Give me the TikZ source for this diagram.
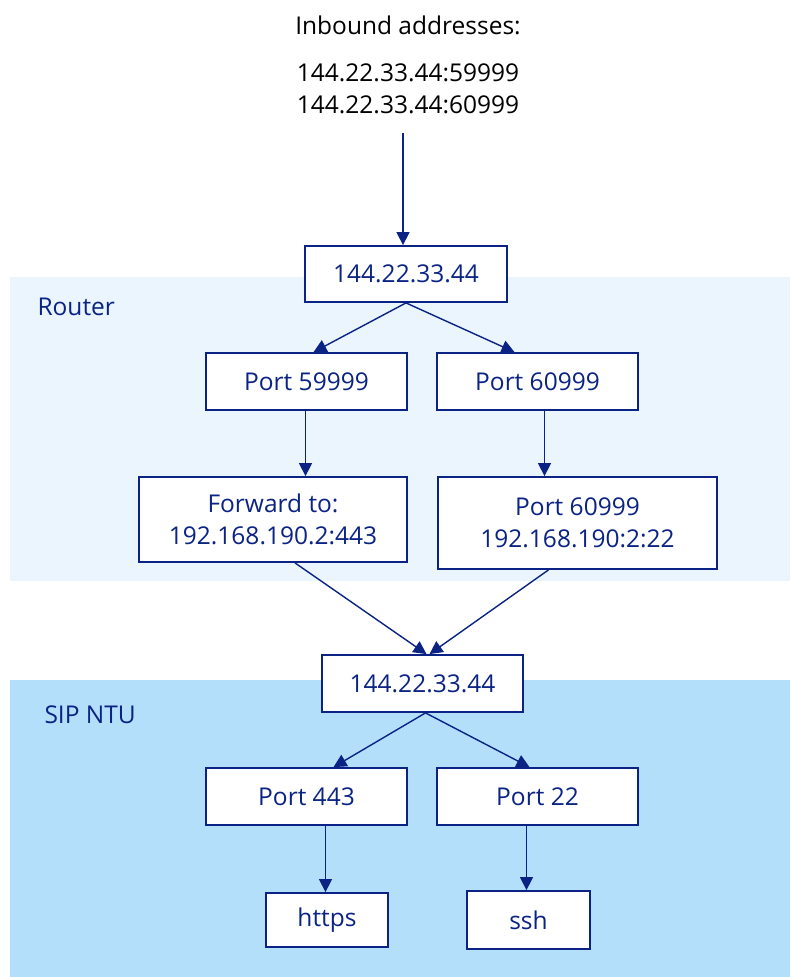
\documentclass[tikz,border=0pt]{standalone}
\usepackage{fontspec}
\setmainfont{Open Sans}
\usetikzlibrary{arrows.meta,calc}
\definecolor{navy}{HTML}{0A2384}
\definecolor{routerbg}{HTML}{EAF5FD}
\definecolor{sipbg}{HTML}{B3DFFB}
\begin{document}
\begin{tikzpicture}[x=1pt,y=-1pt,
  every node/.style={font=\fontsize{24.5}{32}\selectfont, text=navy},
  box/.style={draw=navy, line width=1.8pt, fill=white, align=center, inner sep=0pt},
  arr/.style={navy, line width=1.4pt, -{Triangle[length=13pt,width=13pt]}},
  zone/.style={text=navy, anchor=west}]
  \useasboundingbox (0,0) rectangle (790,977);
  % background bands
  \fill[routerbg] (10,277) rectangle (790,581);
  \fill[sipbg] (10,680) rectangle (790,977);
  \node[zone] (lrouter) at (34,307) {Router};
  \node[zone] (lsip) at (41,715) {SIP NTU};
  % inbound text
  \node[text=black, align=center] (title) at (408,25) {Inbound addresses:};
  \node[text=black, align=center] (addr) at (408,89) {144.22.33.44:59999\\144.22.33.44:60999};
  % boxes
  \node[box, minimum width=202, minimum height=56] (top) at (406,274) {144.22.33.44};
  \node[box, minimum width=201, minimum height=57] (p59) at (306.5,381.5) {Port 59999};
  \node[box, minimum width=201, minimum height=57] (p60) at (537.5,381.5) {Port 60999};
  \node[box, minimum width=268, minimum height=85] (fwd) at (273,519.5) {Forward to:\\192.168.190.2:443};
  \node[box, minimum width=279, minimum height=92] (fwdb) at (577.5,523) {Port 60999\\192.168.190:2:22};
  \node[box, minimum width=201, minimum height=57] (low) at (422.5,683.5) {144.22.33.44};
  \node[box, minimum width=201, minimum height=57] (p443) at (306.5,796.5) {Port 443};
  \node[box, minimum width=201, minimum height=57] (p22) at (537.5,796.5) {Port 22};
  \node[box, minimum width=122, minimum height=54] (https) at (327,920) {https};
  \node[box, minimum width=123, minimum height=58] (ssh) at (528.5,920) {ssh};
  % connectors
  \coordinate (src) at (403,133);
  \draw[arr] (src) -- (top.north -| src);
  \draw[arr] (top.south) -- ([xshift=7pt]p59.north);
  \draw[arr] (top.south) -- ([xshift=-23pt]p60.north);
  \draw[arr] ([xshift=-1pt]p59.south) -- ([xshift=-1pt]fwd.north -| p59.south);
  \draw[arr] ([xshift=7pt]p60.south) -- ([xshift=7pt]fwd.north -| p60.south);
  \draw[arr] ([xshift=22pt]fwd.south) -- ([xshift=4pt]low.north);
  \draw[arr] ([xshift=-29pt]fwdb.south) -- ([xshift=7pt]low.north);
  \draw[arr] ([xshift=3pt]low.south) -- ([xshift=27pt]p443.north);
  \draw[arr] ([xshift=3pt]low.south) -- ([xshift=-8pt]p22.north);
  \draw[arr] ([xshift=19pt]p443.south) -- ([xshift=19pt]https.north -| p443.south);
  \draw[arr] ([xshift=-11pt]p22.south) -- ([xshift=-11pt]ssh.north -| p22.south);
\end{tikzpicture}
\end{document}
